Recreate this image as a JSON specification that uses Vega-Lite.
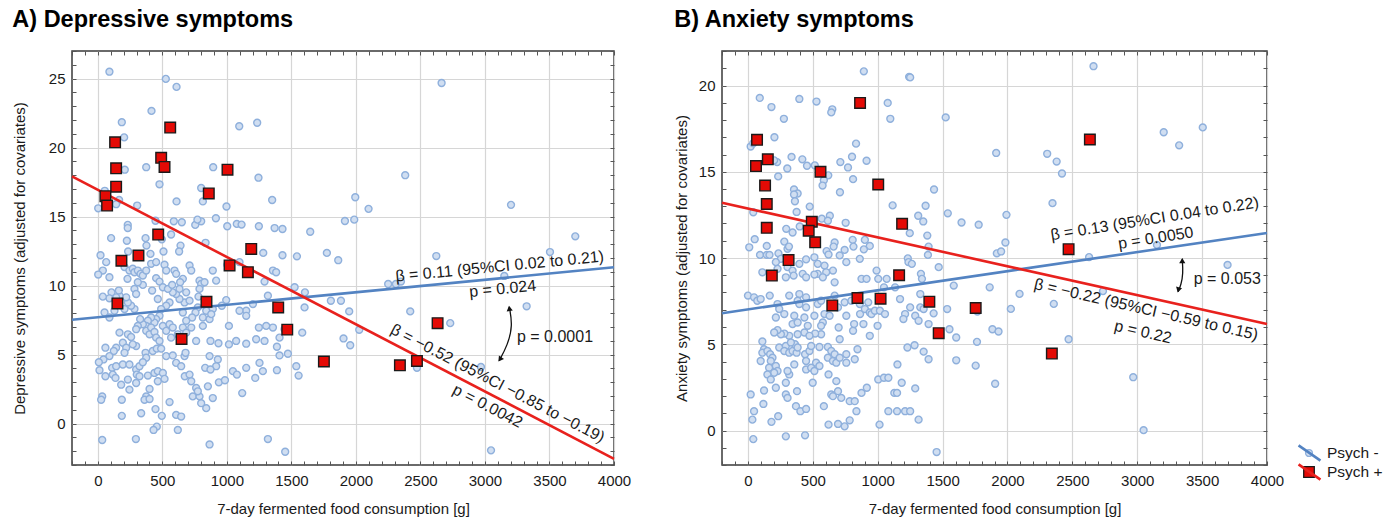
{
"$schema":"https://vega.github.io/schema/vega-lite/v6.json",
"background":"white",
"padding":{"left":11,"top":6,"right":0,"bottom":0},
"config":{"font":"Liberation Sans","view":{"stroke":"#3a3a3a","strokeWidth":1.5},
"title":{"anchor":"start","frame":"bounds","fontSize":23.5,"fontWeight":"bold","font":"Liberation Sans","color":"#000","offset":13},
"axis":{"labelFont":"Liberation Sans","titleFont":"Liberation Sans","labelFontSize":15,"titleFontSize":15,"titleFontWeight":"normal","labelColor":"#1a1a1a","titleColor":"#1a1a1a","tickColor":"#555","domain":false,"labelOverlap":false,"labelFlush":false,"gridColor":"#d6d6d6","gridWidth":1.2}},
"datasets":{
"ptsA":[
{"x":90,"y":25.5,"g":"Psych -"},{"x":527,"y":24.98,"g":"Psych -"},{"x":610,"y":24.4,"g":"Psych -"},{"x":416,"y":22.66,"g":"Psych -"},{"x":186,"y":21.84,"g":"Psych -"},{"x":204,"y":20.74,"g":"Psych -"},{"x":1096,"y":21.55,"g":"Psych -"},{"x":1235,"y":21.8,"g":"Psych -"},{"x":209,"y":18.4,"g":"Psych -"},{"x":375,"y":18.58,"g":"Psych -"},{"x":501,"y":19.16,"g":"Psych -"},{"x":894,"y":18.58,"g":"Psych -"},{"x":1245,"y":17.82,"g":"Psych -"},{"x":478,"y":17.34,"g":"Psych -"},{"x":801,"y":17.07,"g":"Psych -"},{"x":54,"y":16.87,"g":"Psych -"},{"x":610,"y":16.1,"g":"Psych -"},{"x":814,"y":16.1,"g":"Psych -"},{"x":1351,"y":16.2,"g":"Psych -"},{"x":165,"y":16.2,"g":"Psych -"},{"x":142,"y":15.9,"g":"Psych -"},{"x":3,"y":15.6,"g":"Psych -"},{"x":305,"y":15.8,"g":"Psych -"},{"x":997,"y":15.73,"g":"Psych -"},{"x":915,"y":14.88,"g":"Psych -"},{"x":589,"y":14.66,"g":"Psych -"},{"x":651,"y":14.59,"g":"Psych -"},{"x":755,"y":14.4,"g":"Psych -"},{"x":801,"y":14.66,"g":"Psych -"},{"x":772,"y":14.78,"g":"Psych -"},{"x":1003,"y":14.3,"g":"Psych -"},{"x":1077,"y":14.47,"g":"Psych -"},{"x":1114,"y":14.42,"g":"Psych -"},{"x":1248,"y":14.3,"g":"Psych -"},{"x":1370,"y":14.17,"g":"Psych -"},{"x":1431,"y":14.1,"g":"Psych -"},{"x":1646,"y":13.9,"g":"Psych -"},{"x":232,"y":14.4,"g":"Psych -"},{"x":232,"y":14.17,"g":"Psych -"},{"x":103,"y":13.44,"g":"Psych -"},{"x":225,"y":13.25,"g":"Psych -"},{"x":370,"y":13.44,"g":"Psych -"},{"x":447,"y":14.7,"g":"Psych -"},{"x":496,"y":13.35,"g":"Psych -"},{"x":568,"y":13.7,"g":"Psych -"},{"x":377,"y":12.9,"g":"Psych -"},{"x":641,"y":12.9,"g":"Psych -"},{"x":630,"y":12.47,"g":"Psych -"},{"x":509,"y":12.47,"g":"Psych -"},{"x":408,"y":12.3,"g":"Psych -"},{"x":235,"y":12.47,"g":"Psych -"},{"x":21,"y":12.2,"g":"Psych -"},{"x":835,"y":13.1,"g":"Psych -"},{"x":1282,"y":12.37,"g":"Psych -"},{"x":1431,"y":12.2,"g":"Psych -"},{"x":1543,"y":12.12,"g":"Psych -"},{"x":1775,"y":12.37,"g":"Psych -"},
{"x":65,"y":11.7,"g":"Psych -"},{"x":39,"y":11.09,"g":"Psych -"},{"x":3,"y":10.8,"g":"Psych -"},{"x":90,"y":10.61,"g":"Psych -"},{"x":207,"y":11.34,"g":"Psych -"},{"x":245,"y":11.09,"g":"Psych -"},{"x":271,"y":11.22,"g":"Psych -"},{"x":284,"y":10.97,"g":"Psych -"},{"x":310,"y":11.09,"g":"Psych -"},{"x":331,"y":10.85,"g":"Psych -"},{"x":349,"y":10.73,"g":"Psych -"},{"x":230,"y":10.49,"g":"Psych -"},{"x":375,"y":11.09,"g":"Psych -"},{"x":413,"y":11.58,"g":"Psych -"},{"x":452,"y":11.7,"g":"Psych -"},{"x":517,"y":11.51,"g":"Psych -"},{"x":452,"y":10.54,"g":"Psych -"},{"x":478,"y":10.29,"g":"Psych -"},{"x":530,"y":11.09,"g":"Psych -"},{"x":594,"y":11.09,"g":"Psych -"},{"x":607,"y":10.85,"g":"Psych -"},{"x":659,"y":10.49,"g":"Psych -"},{"x":638,"y":10.24,"g":"Psych -"},{"x":711,"y":11.46,"g":"Psych -"},{"x":724,"y":11.09,"g":"Psych -"},{"x":788,"y":10.36,"g":"Psych -"},{"x":801,"y":10.12,"g":"Psych -"},{"x":827,"y":10.24,"g":"Psych -"},{"x":891,"y":11.09,"g":"Psych -"},{"x":917,"y":10.36,"g":"Psych -"},{"x":1003,"y":11.51,"g":"Psych -"},{"x":1098,"y":11.7,"g":"Psych -"},{"x":1292,"y":10.29,"g":"Psych -"},{"x":1357,"y":11.09,"g":"Psych -"},{"x":1382,"y":10.97,"g":"Psych -"},{"x":1525,"y":9.88,"g":"Psych -"},{"x":1605,"y":9.51,"g":"Psych -"},{"x":1602,"y":8.42,"g":"Psych -"},{"x":1318,"y":9.27,"g":"Psych -"},{"x":1202,"y":8.66,"g":"Psych -"},{"x":1150,"y":8.18,"g":"Psych -"},{"x":1150,"y":7.81,"g":"Psych -"},{"x":1098,"y":8.18,"g":"Psych -"},{"x":995,"y":8.95,"g":"Psych -"},{"x":961,"y":8.54,"g":"Psych -"},{"x":891,"y":8.3,"g":"Psych -"},{"x":840,"y":8.18,"g":"Psych -"},{"x":775,"y":8.42,"g":"Psych -"},{"x":814,"y":7.69,"g":"Psych -"},{"x":866,"y":7.57,"g":"Psych -"},{"x":879,"y":7.93,"g":"Psych -"},{"x":757,"y":8.05,"g":"Psych -"},{"x":731,"y":7.69,"g":"Psych -"},{"x":685,"y":7.45,"g":"Psych -"},{"x":659,"y":8.05,"g":"Psych -"},{"x":672,"y":8.78,"g":"Psych -"},{"x":633,"y":9.03,"g":"Psych -"},{"x":607,"y":9.39,"g":"Psych -"},{"x":581,"y":9.51,"g":"Psych -"},{"x":556,"y":8.78,"g":"Psych -"},{"x":530,"y":8.54,"g":"Psych -"},{"x":491,"y":8.3,"g":"Psych -"},{"x":478,"y":7.81,"g":"Psych -"},{"x":452,"y":7.57,"g":"Psych -"},{"x":439,"y":7.32,"g":"Psych -"},{"x":413,"y":7.69,"g":"Psych -"},{"x":388,"y":7.45,"g":"Psych -"},{"x":375,"y":7.08,"g":"Psych -"},{"x":349,"y":7.2,"g":"Psych -"},{"x":328,"y":7.57,"g":"Psych -"},{"x":310,"y":7.08,"g":"Psych -"},{"x":297,"y":6.84,"g":"Psych -"},{"x":284,"y":8.3,"g":"Psych -"},{"x":258,"y":8.54,"g":"Psych -"},{"x":233,"y":8.78,"g":"Psych -"},{"x":220,"y":9.15,"g":"Psych -"},{"x":207,"y":8.3,"g":"Psych -"},{"x":168,"y":9.27,"g":"Psych -"},{"x":163,"y":9.64,"g":"Psych -"},{"x":142,"y":9.15,"g":"Psych -"},{"x":106,"y":9.51,"g":"Psych -"},{"x":90,"y":9.08,"g":"Psych -"},{"x":39,"y":9.2,"g":"Psych -"},{"x":52,"y":8.05,"g":"Psych -"},{"x":90,"y":7.69,"g":"Psych -"},{"x":129,"y":8.18,"g":"Psych -"},{"x":284,"y":9.76,"g":"Psych -"},{"x":297,"y":9.39,"g":"Psych -"},{"x":349,"y":10.05,"g":"Psych -"},{"x":310,"y":10.24,"g":"Psych -"},{"x":421,"y":9.64,"g":"Psych -"},{"x":465,"y":9.03,"g":"Psych -"},{"x":504,"y":9.88,"g":"Psych -"},{"x":543,"y":9.76,"g":"Psych -"},{"x":576,"y":10.05,"g":"Psych -"},{"x":633,"y":9.76,"g":"Psych -"},{"x":685,"y":9.51,"g":"Psych -"},{"x":711,"y":8.91,"g":"Psych -"},{"x":780,"y":9.2,"g":"Psych -"},{"x":788,"y":9.76,"g":"Psych -"},
{"x":375,"y":6.72,"g":"Psych -"},{"x":401,"y":6.47,"g":"Psych -"},{"x":413,"y":6.96,"g":"Psych -"},{"x":439,"y":6.64,"g":"Psych -"},{"x":452,"y":6.23,"g":"Psych -"},{"x":478,"y":5.99,"g":"Psych -"},{"x":504,"y":7.08,"g":"Psych -"},{"x":530,"y":6.72,"g":"Psych -"},{"x":556,"y":7.2,"g":"Psych -"},{"x":581,"y":6.96,"g":"Psych -"},{"x":568,"y":6.23,"g":"Psych -"},{"x":620,"y":6.47,"g":"Psych -"},{"x":659,"y":6.96,"g":"Psych -"},{"x":685,"y":6.59,"g":"Psych -"},{"x":724,"y":6.96,"g":"Psych -"},{"x":762,"y":5.99,"g":"Psych -"},{"x":814,"y":7.08,"g":"Psych -"},{"x":873,"y":5.99,"g":"Psych -"},{"x":935,"y":5.82,"g":"Psych -"},{"x":1016,"y":7.08,"g":"Psych -"},{"x":1016,"y":5.74,"g":"Psych -"},{"x":1072,"y":5.99,"g":"Psych -"},{"x":1150,"y":5.79,"g":"Psych -"},{"x":1227,"y":6.11,"g":"Psych -"},{"x":1248,"y":6.96,"g":"Psych -"},{"x":1292,"y":5.99,"g":"Psych -"},{"x":1305,"y":7.08,"g":"Psych -"},{"x":1357,"y":6.96,"g":"Psych -"},{"x":1388,"y":5.57,"g":"Psych -"},{"x":1408,"y":6.23,"g":"Psych -"},{"x":1447,"y":6.84,"g":"Psych -"},{"x":1473,"y":5.06,"g":"Psych -"},{"x":1584,"y":6.59,"g":"Psych -"},{"x":168,"y":6.59,"g":"Psych -"},{"x":233,"y":6.47,"g":"Psych -"},{"x":258,"y":6.28,"g":"Psych -"},{"x":297,"y":5.62,"g":"Psych -"},{"x":194,"y":5.86,"g":"Psych -"},{"x":142,"y":5.5,"g":"Psych -"},{"x":124,"y":5.26,"g":"Psych -"},{"x":220,"y":5.5,"g":"Psych -"},{"x":207,"y":5.13,"g":"Psych -"},{"x":271,"y":5.74,"g":"Psych -"},{"x":59,"y":5.5,"g":"Psych -"},{"x":44,"y":4.65,"g":"Psych -"},{"x":8,"y":4.45,"g":"Psych -"},{"x":13,"y":3.87,"g":"Psych -"},{"x":90,"y":4.89,"g":"Psych -"},{"x":111,"y":4.04,"g":"Psych -"},{"x":142,"y":4.16,"g":"Psych -"},{"x":194,"y":4.28,"g":"Psych -"},{"x":245,"y":4.28,"g":"Psych -"},{"x":297,"y":3.92,"g":"Psych -"},{"x":323,"y":4.16,"g":"Psych -"},{"x":370,"y":5.13,"g":"Psych -"},{"x":375,"y":4.77,"g":"Psych -"},{"x":349,"y":4.45,"g":"Psych -"},{"x":426,"y":5.26,"g":"Psych -"},{"x":457,"y":5.43,"g":"Psych -"},{"x":491,"y":5.43,"g":"Psych -"},{"x":530,"y":4.89,"g":"Psych -"},{"x":581,"y":4.94,"g":"Psych -"},{"x":607,"y":4.4,"g":"Psych -"},{"x":646,"y":4.16,"g":"Psych -"},{"x":672,"y":4.89,"g":"Psych -"},{"x":680,"y":5.13,"g":"Psych -"},{"x":866,"y":4.89,"g":"Psych -"},{"x":930,"y":4.65,"g":"Psych -"},{"x":917,"y":4.16,"g":"Psych -"},{"x":832,"y":4.04,"g":"Psych -"},{"x":873,"y":3.92,"g":"Psych -"},{"x":1047,"y":3.8,"g":"Psych -"},{"x":1078,"y":3.55,"g":"Psych -"},{"x":1150,"y":4.04,"g":"Psych -"},{"x":1220,"y":3.31,"g":"Psych -"},{"x":1253,"y":4.4,"g":"Psych -"},{"x":1279,"y":3.8,"g":"Psych -"},{"x":1388,"y":3.87,"g":"Psych -"},{"x":1408,"y":4.94,"g":"Psych -"},{"x":1538,"y":4.16,"g":"Psych -"},{"x":1556,"y":3.48,"g":"Psych -"},
{"x":59,"y":3.43,"g":"Psych -"},{"x":116,"y":3.55,"g":"Psych -"},{"x":137,"y":3.31,"g":"Psych -"},{"x":181,"y":2.82,"g":"Psych -"},{"x":233,"y":3.19,"g":"Psych -"},{"x":245,"y":2.46,"g":"Psych -"},{"x":302,"y":3.55,"g":"Psych -"},{"x":297,"y":2.94,"g":"Psych -"},{"x":323,"y":3.43,"g":"Psych -"},{"x":388,"y":3.48,"g":"Psych -"},{"x":401,"y":2.51,"g":"Psych -"},{"x":439,"y":3.67,"g":"Psych -"},{"x":465,"y":3.07,"g":"Psych -"},{"x":465,"y":3.8,"g":"Psych -"},{"x":504,"y":3.67,"g":"Psych -"},{"x":517,"y":3.24,"g":"Psych -"},{"x":375,"y":1.97,"g":"Psych -"},{"x":362,"y":1.73,"g":"Psych -"},{"x":401,"y":1.78,"g":"Psych -"},{"x":447,"y":1.05,"g":"Psych -"},{"x":457,"y":-0.22,"g":"Psych -"},{"x":432,"y":-0.46,"g":"Psych -"},{"x":496,"y":0.56,"g":"Psych -"},{"x":556,"y":1.56,"g":"Psych -"},{"x":607,"y":0.63,"g":"Psych -"},{"x":646,"y":0.51,"g":"Psych -"},{"x":674,"y":3.43,"g":"Psych -"},{"x":711,"y":3.55,"g":"Psych -"},{"x":724,"y":3.07,"g":"Psych -"},{"x":762,"y":2.58,"g":"Psych -"},{"x":736,"y":1.97,"g":"Psych -"},{"x":788,"y":1.97,"g":"Psych -"},{"x":775,"y":2.34,"g":"Psych -"},{"x":801,"y":1.48,"g":"Psych -"},{"x":840,"y":1.12,"g":"Psych -"},{"x":891,"y":1.85,"g":"Psych -"},{"x":853,"y":2.7,"g":"Psych -"},{"x":938,"y":2.99,"g":"Psych -"},{"x":985,"y":3.14,"g":"Psych -"},{"x":1119,"y":2.21,"g":"Psych -"},{"x":34,"y":1.97,"g":"Psych -"},{"x":26,"y":1.73,"g":"Psych -"},{"x":186,"y":1.73,"g":"Psych -"},{"x":186,"y":0.56,"g":"Psych -"},{"x":336,"y":0.75,"g":"Psych -"},{"x":620,"y":-0.46,"g":"Psych -"},{"x":34,"y":-1.19,"g":"Psych -"},{"x":295,"y":-1.12,"g":"Psych -"},{"x":866,"y":-1.51,"g":"Psych -"},{"x":1318,"y":-1.12,"g":"Psych -"},{"x":1452,"y":-2.04,"g":"Psych -"},
{"x":2664,"y":24.68,"g":"Psych -"},{"x":2382,"y":18.0,"g":"Psych -"},{"x":1995,"y":16.4,"g":"Psych -"},{"x":2098,"y":15.56,"g":"Psych -"},{"x":1915,"y":14.68,"g":"Psych -"},{"x":1987,"y":14.78,"g":"Psych -"},{"x":3202,"y":15.85,"g":"Psych -"},{"x":3700,"y":13.57,"g":"Psych -"},{"x":3504,"y":12.43,"g":"Psych -"},{"x":2623,"y":12.14,"g":"Psych -"},{"x":1863,"y":11.84,"g":"Psych -"},{"x":3150,"y":10.7,"g":"Psych -"},{"x":2250,"y":10.12,"g":"Psych -"},{"x":2310,"y":10.12,"g":"Psych -"},{"x":2349,"y":10.29,"g":"Psych -"},{"x":1806,"y":8.9,"g":"Psych -"},{"x":1884,"y":8.9,"g":"Psych -"},{"x":1948,"y":8.13,"g":"Psych -"},{"x":2421,"y":8.13,"g":"Psych -"},{"x":3323,"y":8.5,"g":"Psych -"},{"x":2731,"y":7.28,"g":"Psych -"},{"x":2026,"y":6.8,"g":"Psych -"},{"x":1904,"y":6.17,"g":"Psych -"},{"x":1956,"y":5.68,"g":"Psych -"},{"x":2473,"y":4.05,"g":"Psych -"},{"x":2969,"y":4.1,"g":"Psych -"},{"x":3047,"y":-1.94,"g":"Psych -"},
{"x":134,"y":20.38,"g":"Psych +"},{"x":561,"y":21.45,"g":"Psych +"},{"x":491,"y":19.26,"g":"Psych +"},{"x":517,"y":18.6,"g":"Psych +"},{"x":142,"y":18.5,"g":"Psych +"},{"x":1005,"y":18.4,"g":"Psych +"},{"x":142,"y":17.17,"g":"Psych +"},{"x":860,"y":16.68,"g":"Psych +"},{"x":59,"y":16.48,"g":"Psych +"},{"x":72,"y":15.8,"g":"Psych +"},{"x":468,"y":13.7,"g":"Psych +"},{"x":1189,"y":12.66,"g":"Psych +"},{"x":183,"y":11.8,"g":"Psych +"},{"x":315,"y":12.18,"g":"Psych +"},{"x":1021,"y":11.46,"g":"Psych +"},{"x":1163,"y":10.97,"g":"Psych +"},{"x":152,"y":8.71,"g":"Psych +"},{"x":842,"y":8.83,"g":"Psych +"},{"x":1398,"y":8.42,"g":"Psych +"},{"x":1468,"y":6.81,"g":"Psych +"},{"x":649,"y":6.13,"g":"Psych +"},{"x":1752,"y":4.5,"g":"Psych +"},{"x":2633,"y":7.28,"g":"Psych +"},{"x":2341,"y":4.22,"g":"Psych +"},{"x":2473,"y":4.54,"g":"Psych +"}
],
"ptsB":[
{"x":893,"y":20.82,"g":"Psych -"},{"x":1242,"y":20.5,"g":"Psych -"},{"x":1250,"y":20.47,"g":"Psych -"},{"x":91,"y":19.28,"g":"Psych -"},{"x":396,"y":19.22,"g":"Psych -"},{"x":528,"y":19.07,"g":"Psych -"},{"x":181,"y":18.75,"g":"Psych -"},{"x":650,"y":18.62,"g":"Psych -"},{"x":642,"y":18.44,"g":"Psych -"},{"x":1077,"y":18.99,"g":"Psych -"},{"x":1097,"y":18.07,"g":"Psych -"},{"x":277,"y":18.07,"g":"Psych -"},{"x":1524,"y":18.15,"g":"Psych -"},{"x":1913,"y":16.09,"g":"Psych -"},{"x":204,"y":17.0,"g":"Psych -"},{"x":21,"y":16.46,"g":"Psych -"},{"x":41,"y":16.65,"g":"Psych -"},{"x":833,"y":16.63,"g":"Psych -"},{"x":336,"y":15.86,"g":"Psych -"},{"x":419,"y":15.72,"g":"Psych -"},{"x":225,"y":15.56,"g":"Psych -"},{"x":202,"y":15.66,"g":"Psych -"},{"x":455,"y":15.35,"g":"Psych -"},{"x":303,"y":15.19,"g":"Psych -"},{"x":515,"y":15.37,"g":"Psych -"},{"x":712,"y":15.56,"g":"Psych -"},{"x":771,"y":15.25,"g":"Psych -"},{"x":802,"y":15.87,"g":"Psych -"},{"x":914,"y":15.64,"g":"Psych -"},{"x":810,"y":14.57,"g":"Psych -"},{"x":619,"y":14.79,"g":"Psych -"},{"x":585,"y":14.51,"g":"Psych -"},{"x":575,"y":14.2,"g":"Psych -"},{"x":233,"y":14.73,"g":"Psych -"},{"x":709,"y":13.81,"g":"Psych -"},{"x":355,"y":13.97,"g":"Psych -"},{"x":383,"y":13.74,"g":"Psych -"},{"x":355,"y":13.68,"g":"Psych -"},{"x":362,"y":13.29,"g":"Psych -"},{"x":476,"y":12.98,"g":"Psych -"},{"x":375,"y":12.67,"g":"Psych -"},{"x":41,"y":12.65,"g":"Psych -"},{"x":399,"y":11.83,"g":"Psych -"},{"x":295,"y":11.69,"g":"Psych -"},{"x":344,"y":11.48,"g":"Psych -"},{"x":280,"y":10.95,"g":"Psych -"},{"x":305,"y":10.53,"g":"Psych -"},{"x":316,"y":10.66,"g":"Psych -"},{"x":569,"y":12.28,"g":"Psych -"},{"x":631,"y":12.45,"g":"Psych -"},{"x":616,"y":12.16,"g":"Psych -"},{"x":753,"y":12.04,"g":"Psych -"},{"x":1115,"y":13.05,"g":"Psych -"},{"x":1312,"y":12.45,"g":"Psych -"},{"x":1369,"y":13.03,"g":"Psych -"},{"x":1351,"y":12.12,"g":"Psych -"},{"x":1247,"y":11.44,"g":"Psych -"},{"x":1382,"y":11.3,"g":"Psych -"},{"x":1434,"y":13.97,"g":"Psych -"},{"x":1540,"y":12.59,"g":"Psych -"},{"x":1646,"y":12.06,"g":"Psych -"},{"x":1778,"y":11.93,"g":"Psych -"},{"x":52,"y":11.09,"g":"Psych -"},{"x":10,"y":10.62,"g":"Psych -"},{"x":145,"y":10.7,"g":"Psych -"},{"x":93,"y":10.18,"g":"Psych -"},{"x":145,"y":10.18,"g":"Psych -"},{"x":166,"y":10.18,"g":"Psych -"},{"x":235,"y":10.27,"g":"Psych -"},{"x":668,"y":10.9,"g":"Psych -"},{"x":660,"y":10.66,"g":"Psych -"},{"x":745,"y":10.47,"g":"Psych -"},{"x":807,"y":11.05,"g":"Psych -"},{"x":901,"y":11.05,"g":"Psych -"},{"x":939,"y":10.7,"g":"Psych -"},{"x":893,"y":10.5,"g":"Psych -"},{"x":813,"y":10.66,"g":"Psych -"},{"x":606,"y":10.4,"g":"Psych -"},{"x":621,"y":10.2,"g":"Psych -"},{"x":512,"y":10.04,"g":"Psych -"},{"x":448,"y":9.92,"g":"Psych -"},{"x":1392,"y":10.66,"g":"Psych -"},{"x":1387,"y":10.18,"g":"Psych -"},{"x":1232,"y":9.98,"g":"Psych -"},{"x":1918,"y":10.27,"g":"Psych -"},
{"x":254,"y":9.95,"g":"Psych -"},{"x":305,"y":9.47,"g":"Psych -"},{"x":344,"y":9.27,"g":"Psych -"},{"x":396,"y":9.66,"g":"Psych -"},{"x":538,"y":9.66,"g":"Psych -"},{"x":590,"y":9.56,"g":"Psych -"},{"x":655,"y":9.27,"g":"Psych -"},{"x":707,"y":10.15,"g":"Psych -"},{"x":758,"y":9.76,"g":"Psych -"},{"x":538,"y":9.08,"g":"Psych -"},{"x":603,"y":9.17,"g":"Psych -"},{"x":668,"y":8.59,"g":"Psych -"},{"x":352,"y":8.98,"g":"Psych -"},{"x":292,"y":8.88,"g":"Psych -"},{"x":228,"y":9.37,"g":"Psych -"},{"x":215,"y":9.76,"g":"Psych -"},{"x":111,"y":9.17,"g":"Psych -"},{"x":422,"y":9.08,"g":"Psych -"},{"x":448,"y":8.88,"g":"Psych -"},{"x":512,"y":9.04,"g":"Psych -"},{"x":577,"y":8.88,"g":"Psych -"},{"x":862,"y":9.95,"g":"Psych -"},{"x":875,"y":8.79,"g":"Psych -"},{"x":914,"y":8.79,"g":"Psych -"},{"x":991,"y":9.27,"g":"Psych -"},{"x":1004,"y":8.79,"g":"Psych -"},{"x":1048,"y":8.3,"g":"Psych -"},{"x":1069,"y":8.79,"g":"Psych -"},{"x":1134,"y":8.3,"g":"Psych -"},{"x":1237,"y":9.76,"g":"Psych -"},{"x":1263,"y":9.66,"g":"Psych -"},{"x":1333,"y":9.08,"g":"Psych -"},{"x":1341,"y":8.79,"g":"Psych -"},{"x":1470,"y":9.47,"g":"Psych -"},{"x":1586,"y":8.4,"g":"Psych -"},{"x":1863,"y":8.3,"g":"Psych -"},{"x":1328,"y":7.91,"g":"Psych -"},{"x":1250,"y":7.14,"g":"Psych -"},{"x":1172,"y":7.62,"g":"Psych -"},{"x":1211,"y":6.75,"g":"Psych -"},{"x":1198,"y":6.46,"g":"Psych -"},{"x":1289,"y":6.65,"g":"Psych -"},{"x":1315,"y":6.36,"g":"Psych -"},{"x":1328,"y":7.14,"g":"Psych -"},{"x":1354,"y":7.04,"g":"Psych -"},{"x":1392,"y":6.17,"g":"Psych -"},{"x":1431,"y":6.79,"g":"Psych -"},{"x":1535,"y":7.04,"g":"Psych -"},{"x":1553,"y":5.87,"g":"Psych -"},{"x":1605,"y":5.39,"g":"Psych -"},{"x":1768,"y":6.9,"g":"Psych -"},{"x":1884,"y":5.87,"g":"Psych -"},{"x":1931,"y":5.74,"g":"Psych -"},{"x":1765,"y":5.14,"g":"Psych -"},{"x":1755,"y":3.76,"g":"Psych -"},{"x":1905,"y":2.71,"g":"Psych -"},{"x":1605,"y":4.07,"g":"Psych -"},{"x":1392,"y":4.13,"g":"Psych -"},{"x":1354,"y":4.57,"g":"Psych -"},{"x":1284,"y":4.94,"g":"Psych -"},{"x":1229,"y":4.81,"g":"Psych -"},{"x":1289,"y":2.44,"g":"Psych -"},{"x":1315,"y":0.63,"g":"Psych -"},{"x":1454,"y":-1.25,"g":"Psych -"},
{"x":0,"y":7.82,"g":"Psych -"},{"x":47,"y":7.72,"g":"Psych -"},{"x":72,"y":7.52,"g":"Psych -"},{"x":98,"y":7.62,"g":"Psych -"},{"x":168,"y":7.82,"g":"Psych -"},{"x":228,"y":7.33,"g":"Psych -"},{"x":241,"y":7.04,"g":"Psych -"},{"x":280,"y":6.75,"g":"Psych -"},{"x":215,"y":6.55,"g":"Psych -"},{"x":318,"y":7.82,"g":"Psych -"},{"x":396,"y":7.91,"g":"Psych -"},{"x":383,"y":7.52,"g":"Psych -"},{"x":396,"y":7.33,"g":"Psych -"},{"x":448,"y":7.72,"g":"Psych -"},{"x":448,"y":7.14,"g":"Psych -"},{"x":357,"y":6.65,"g":"Psych -"},{"x":344,"y":6.17,"g":"Psych -"},{"x":383,"y":6.26,"g":"Psych -"},{"x":435,"y":6.55,"g":"Psych -"},{"x":461,"y":6.07,"g":"Psych -"},{"x":512,"y":6.65,"g":"Psych -"},{"x":538,"y":7.33,"g":"Psych -"},{"x":564,"y":7.52,"g":"Psych -"},{"x":577,"y":6.26,"g":"Psych -"},{"x":564,"y":6.07,"g":"Psych -"},{"x":590,"y":6.75,"g":"Psych -"},{"x":629,"y":6.65,"g":"Psych -"},{"x":668,"y":7.82,"g":"Psych -"},{"x":694,"y":7.14,"g":"Psych -"},{"x":699,"y":5.97,"g":"Psych -"},{"x":745,"y":7.43,"g":"Psych -"},{"x":758,"y":6.65,"g":"Psych -"},{"x":797,"y":7.52,"g":"Psych -"},{"x":810,"y":5.78,"g":"Psych -"},{"x":818,"y":6.17,"g":"Psych -"},{"x":862,"y":7.33,"g":"Psych -"},{"x":864,"y":6.75,"g":"Psych -"},{"x":890,"y":6.17,"g":"Psych -"},{"x":901,"y":7.04,"g":"Psych -"},{"x":927,"y":7.43,"g":"Psych -"},{"x":939,"y":6.84,"g":"Psych -"},{"x":952,"y":6.75,"g":"Psych -"},{"x":978,"y":6.94,"g":"Psych -"},{"x":999,"y":6.07,"g":"Psych -"},{"x":1017,"y":6.94,"g":"Psych -"},{"x":1056,"y":6.75,"g":"Psych -"},{"x":939,"y":5.49,"g":"Psych -"},{"x":707,"y":5.29,"g":"Psych -"},{"x":564,"y":5.58,"g":"Psych -"},{"x":518,"y":5.62,"g":"Psych -"},{"x":435,"y":5.68,"g":"Psych -"},{"x":474,"y":5.49,"g":"Psych -"},{"x":383,"y":5.58,"g":"Psych -"},{"x":318,"y":5.49,"g":"Psych -"},{"x":280,"y":5.62,"g":"Psych -"},{"x":254,"y":5.58,"g":"Psych -"},{"x":228,"y":5.82,"g":"Psych -"},{"x":202,"y":5.68,"g":"Psych -"},
{"x":111,"y":5.16,"g":"Psych -"},{"x":124,"y":4.71,"g":"Psych -"},{"x":111,"y":4.51,"g":"Psych -"},{"x":150,"y":4.61,"g":"Psych -"},{"x":171,"y":4.42,"g":"Psych -"},{"x":189,"y":4.22,"g":"Psych -"},{"x":241,"y":4.81,"g":"Psych -"},{"x":292,"y":4.9,"g":"Psych -"},{"x":280,"y":4.61,"g":"Psych -"},{"x":318,"y":4.51,"g":"Psych -"},{"x":344,"y":4.61,"g":"Psych -"},{"x":375,"y":4.51,"g":"Psych -"},{"x":362,"y":5.0,"g":"Psych -"},{"x":383,"y":4.81,"g":"Psych -"},{"x":331,"y":5.1,"g":"Psych -"},{"x":176,"y":4.03,"g":"Psych -"},{"x":163,"y":3.64,"g":"Psych -"},{"x":215,"y":3.74,"g":"Psych -"},{"x":228,"y":3.45,"g":"Psych -"},{"x":202,"y":3.35,"g":"Psych -"},{"x":150,"y":3.25,"g":"Psych -"},{"x":98,"y":4.03,"g":"Psych -"},{"x":176,"y":2.96,"g":"Psych -"},{"x":215,"y":2.48,"g":"Psych -"},{"x":292,"y":2.77,"g":"Psych -"},{"x":318,"y":3.25,"g":"Psych -"},{"x":357,"y":3.83,"g":"Psych -"},{"x":305,"y":3.45,"g":"Psych -"},{"x":440,"y":4.42,"g":"Psych -"},{"x":448,"y":4.03,"g":"Psych -"},{"x":448,"y":3.54,"g":"Psych -"},{"x":487,"y":3.64,"g":"Psych -"},{"x":512,"y":3.45,"g":"Psych -"},{"x":525,"y":3.93,"g":"Psych -"},{"x":551,"y":3.74,"g":"Psych -"},{"x":499,"y":2.77,"g":"Psych -"},{"x":474,"y":4.61,"g":"Psych -"},{"x":487,"y":4.9,"g":"Psych -"},{"x":551,"y":4.84,"g":"Psych -"},{"x":616,"y":4.84,"g":"Psych -"},{"x":642,"y":4.61,"g":"Psych -"},{"x":616,"y":4.22,"g":"Psych -"},{"x":655,"y":4.03,"g":"Psych -"},{"x":668,"y":4.42,"g":"Psych -"},{"x":681,"y":3.93,"g":"Psych -"},{"x":707,"y":4.22,"g":"Psych -"},{"x":758,"y":4.42,"g":"Psych -"},{"x":758,"y":3.93,"g":"Psych -"},{"x":823,"y":4.13,"g":"Psych -"},{"x":844,"y":4.71,"g":"Psych -"},{"x":621,"y":3.25,"g":"Psych -"},{"x":681,"y":2.86,"g":"Psych -"},{"x":642,"y":2.09,"g":"Psych -"},{"x":694,"y":2.28,"g":"Psych -"},{"x":655,"y":1.99,"g":"Psych -"},{"x":719,"y":1.89,"g":"Psych -"},{"x":784,"y":1.7,"g":"Psych -"},{"x":823,"y":1.7,"g":"Psych -"},{"x":836,"y":1.12,"g":"Psych -"},{"x":875,"y":2.18,"g":"Psych -"},{"x":916,"y":2.48,"g":"Psych -"},{"x":1004,"y":2.96,"g":"Psych -"},{"x":1048,"y":3.06,"g":"Psych -"},{"x":1082,"y":3.06,"g":"Psych -"},{"x":1152,"y":3.83,"g":"Psych -"},{"x":1128,"y":2.18,"g":"Psych -"},{"x":1149,"y":2.18,"g":"Psych -"},{"x":1185,"y":2.77,"g":"Psych -"},{"x":1149,"y":1.12,"g":"Psych -"},{"x":1211,"y":1.12,"g":"Psych -"},{"x":1250,"y":1.12,"g":"Psych -"},{"x":1082,"y":1.12,"g":"Psych -"},{"x":1014,"y":0.34,"g":"Psych -"},{"x":621,"y":0.34,"g":"Psych -"},{"x":694,"y":0.38,"g":"Psych -"},{"x":745,"y":0.24,"g":"Psych -"},{"x":784,"y":0.59,"g":"Psych -"},{"x":21,"y":2.09,"g":"Psych -"},{"x":47,"y":1.12,"g":"Psych -"},{"x":34,"y":0.63,"g":"Psych -"},{"x":181,"y":0.5,"g":"Psych -"},{"x":41,"y":-0.5,"g":"Psych -"},{"x":124,"y":2.32,"g":"Psych -"},{"x":119,"y":1.54,"g":"Psych -"},{"x":233,"y":0.83,"g":"Psych -"},{"x":292,"y":2.09,"g":"Psych -"},{"x":305,"y":1.89,"g":"Psych -"},{"x":378,"y":2.28,"g":"Psych -"},{"x":370,"y":1.41,"g":"Psych -"},{"x":404,"y":1.12,"g":"Psych -"},{"x":448,"y":1.25,"g":"Psych -"},{"x":292,"y":-0.34,"g":"Psych -"},{"x":440,"y":-0.28,"g":"Psych -"},{"x":585,"y":1.41,"g":"Psych -"},
{"x":2663,"y":21.12,"g":"Psych -"},{"x":3204,"y":17.29,"g":"Psych -"},{"x":3323,"y":16.53,"g":"Psych -"},{"x":3505,"y":17.57,"g":"Psych -"},{"x":2306,"y":16.04,"g":"Psych -"},{"x":2379,"y":15.59,"g":"Psych -"},{"x":2420,"y":14.9,"g":"Psych -"},{"x":2347,"y":13.18,"g":"Psych -"},{"x":1992,"y":12.5,"g":"Psych -"},{"x":1984,"y":10.9,"g":"Psych -"},{"x":1951,"y":10.38,"g":"Psych -"},{"x":2629,"y":10.05,"g":"Psych -"},{"x":3152,"y":10.76,"g":"Psych -"},{"x":3696,"y":9.6,"g":"Psych -"},{"x":2093,"y":7.92,"g":"Psych -"},{"x":2357,"y":7.34,"g":"Psych -"},{"x":2736,"y":8.08,"g":"Psych -"},{"x":2026,"y":7.05,"g":"Psych -"},{"x":2471,"y":5.29,"g":"Psych -"},{"x":2969,"y":3.09,"g":"Psych -"},{"x":3049,"y":0.02,"g":"Psych -"},
{"x":70,"y":16.85,"g":"Psych +"},{"x":153,"y":15.72,"g":"Psych +"},{"x":62,"y":15.33,"g":"Psych +"},{"x":864,"y":18.99,"g":"Psych +"},{"x":559,"y":15.0,"g":"Psych +"},{"x":132,"y":14.2,"g":"Psych +"},{"x":1004,"y":14.26,"g":"Psych +"},{"x":145,"y":13.13,"g":"Psych +"},{"x":145,"y":11.75,"g":"Psych +"},{"x":492,"y":12.1,"g":"Psych +"},{"x":468,"y":11.58,"g":"Psych +"},{"x":518,"y":10.91,"g":"Psych +"},{"x":1188,"y":11.98,"g":"Psych +"},{"x":313,"y":9.88,"g":"Psych +"},{"x":184,"y":8.98,"g":"Psych +"},{"x":1165,"y":9.0,"g":"Psych +"},{"x":650,"y":7.25,"g":"Psych +"},{"x":844,"y":7.68,"g":"Psych +"},{"x":1022,"y":7.64,"g":"Psych +"},{"x":1398,"y":7.47,"g":"Psych +"},{"x":1755,"y":7.1,"g":"Psych +"},{"x":1470,"y":5.64,"g":"Psych +"},{"x":2635,"y":16.87,"g":"Psych +"},{"x":2471,"y":10.51,"g":"Psych +"},{"x":2342,"y":4.46,"g":"Psych +"}
],
"linesA":[{"x":-200,"y":7.52,"line":"Psych -"},{"x":4000,"y":11.33,"line":"Psych -"},{"x":-200,"y":17.92,"line":"Psych +"},{"x":4000,"y":-2.55,"line":"Psych +"}],
"linesB":[{"x":-200,"y":6.8,"line":"Psych -"},{"x":4000,"y":11.45,"line":"Psych -"},{"x":-200,"y":13.2,"line":"Psych +"},{"x":4000,"y":6.18,"line":"Psych +"}],
"annA":[{"x":3114,"y":11.38,"t":"β = 0.11 (95%CI 0.02 to 0.21)","k":"b"},{"x":3137,"y":9.76,"t":"p = 0.024","k":"b"},{"x":3098,"y":2.91,"t":"β = −0.52 (95%CI −0.85 to −0.19)","k":"r"},{"x":3021,"y":1.26,"t":"p = 0.0042","k":"r"},{"x":3248,"y":6.29,"t":"p = 0.0001","k":"d"}],
"annB":[{"x":3134,"y":12.27,"t":"β = 0.13 (95%CI 0.04 to 0.22)","k":"b"},{"x":3142,"y":11.15,"t":"p = 0.0050","k":"b"},{"x":3068,"y":7.01,"t":"β = −0.22 (95%CI −0.59 to 0.15)","k":"r"},{"x":3044,"y":5.7,"t":"p = 0.22","k":"r"},{"x":3435,"y":8.79,"t":"p = 0.053","k":"d"}],
"arrA":[{"x":3189,"y":8.45,"i":1},{"x":3215,"y":7.1,"i":2},{"x":3176,"y":5.7,"i":3},{"x":3110,"y":4.55,"i":4}],
"arrB":[{"x":3347,"y":9.95,"i":1},{"x":3354,"y":9.1,"i":2},{"x":3338,"y":8.45,"i":3},{"x":3315,"y":8.05,"i":4}],
"headA":[{"x":3189,"y":8.35,"e":"top"},{"x":3116,"y":4.65,"e":"bot"}],
"headB":[{"x":3347,"y":9.85,"e":"top"},{"x":3317,"y":8.15,"e":"bot"}]
},
"spacing":41,
"hconcat":[
{"title":{"text":"A) Depressive symptoms"},"width":542,"height":414,
"resolve":{"axis":{"x":"independent","y":"independent"}},
"layer":[
{"data":{"name":"ptsA"},"transform":[{"filter":"datum.g === 'Psych -'"}],"mark":{"type":"point","filled":true,"strokeWidth":1.4,"opacity":1},
"encoding":{
"x":{"field":"x","type":"quantitative","scale":{"domain":[-200,4000],"nice":false,"zero":false},"axis":{"orient":"bottom","title":"7-day fermented food consumption [g]","values":[-200,-100,0,100,200,300,400,500,600,700,800,900,1000,1100,1200,1300,1400,1500,1600,1700,1800,1900,2000,2100,2200,2300,2400,2500,2600,2700,2800,2900,3000,3100,3200,3300,3400,3500,3600,3700,3800,3900,4000],"labelExpr":"datum.value >= 0 && datum.value % 500 === 0 ? format(datum.value, 'd') : ''","tickSize":-4,"labelPadding":12,"titlePadding":13,"grid":true,"gridOpacity":{"condition":{"test":"datum.value % 500 === 0","value":1},"value":0}}},
"y":{"field":"y","type":"quantitative","scale":{"domain":[-3,27],"nice":false,"zero":false},"axis":{"orient":"left","title":"Depressive symptoms (adjusted for covariates)","values":[-3,-2,-1,0,1,2,3,4,5,6,7,8,9,10,11,12,13,14,15,16,17,18,19,20,21,22,23,24,25,26,27],"labelExpr":"datum.value >= 0 && datum.value % 5 === 0 ? format(datum.value, 'd') : ''","tickSize":-4,"labelPadding":11,"titlePadding":21,"grid":true,"gridOpacity":{"condition":{"test":"datum.value % 5 === 0","value":1},"value":0}}},
"fill":{"field":"g","type":"nominal","scale":{"domain":["Psych -","Psych +"],"range":["#d0def1","#e40a05"]},"legend":{"orient":"none","legendX":1231,"legendY":393,"title":null,"labelExpr":"''","labelOpacity":0,"clipHeight":18,"rowPadding":1,"symbolStrokeWidth":1.3}},
"stroke":{"field":"g","type":"nominal","scale":{"domain":["Psych -","Psych +"],"range":["#8fb0dc","#1a1a1a"]},"legend":{"orient":"none","legendX":1231,"legendY":393,"title":null,"labelExpr":"''","labelOpacity":0,"clipHeight":18,"rowPadding":1,"symbolStrokeWidth":1.3}},
"shape":{"field":"g","type":"nominal","scale":{"domain":["Psych -","Psych +"],"range":["circle","square"]},"legend":{"orient":"none","legendX":1231,"legendY":393,"title":null,"labelExpr":"''","labelOpacity":0,"clipHeight":18,"rowPadding":1,"symbolStrokeWidth":1.3}},
"size":{"field":"g","type":"ordinal","scale":{"domain":["Psych -","Psych +"],"range":[48,112]},"legend":{"orient":"none","legendX":1231,"legendY":393,"title":null,"labelExpr":"''","labelOpacity":0,"clipHeight":18,"rowPadding":1,"symbolStrokeWidth":1.3}}}},
{"data":{"name":"linesA"},"mark":{"type":"line","strokeWidth":2.6},
"encoding":{
"x":{"field":"x","type":"quantitative","axis":{"orient":"top","title":null,"labels":false,"grid":false,"tickSize":-4,"values":[-200,-100,0,100,200,300,400,500,600,700,800,900,1000,1100,1200,1300,1400,1500,1600,1700,1800,1900,2000,2100,2200,2300,2400,2500,2600,2700,2800,2900,3000,3100,3200,3300,3400,3500,3600,3700,3800,3900,4000]}},
"y":{"field":"y","type":"quantitative","axis":{"orient":"right","title":null,"labels":false,"grid":false,"tickSize":-4,"values":[-3,-2,-1,0,1,2,3,4,5,6,7,8,9,10,11,12,13,14,15,16,17,18,19,20,21,22,23,24,25,26,27]}},
"color":{"field":"line","type":"nominal","sort":["Psych -","Psych +"],"scale":{"range":["#5383c2","#e8211d"]},"legend":{"orient":"none","legendX":1225,"legendY":393,"title":null,"symbolType":"M-1,-0.7L1,0.7","symbolSize":480,"symbolStrokeWidth":2.6,"labelFontSize":15.5,"labelFont":"Liberation Sans","labelColor":"#1a1a1a","clipHeight":18,"rowPadding":1,"labelOffset":5}}}},
{"data":{"name":"ptsA"},"transform":[{"filter":"datum.g === 'Psych +'"}],"mark":{"type":"point","filled":true,"strokeWidth":1.4,"opacity":1},
"encoding":{
"x":{"field":"x","type":"quantitative","axis":null},
"y":{"field":"y","type":"quantitative","axis":null},
"fill":{"field":"g","type":"nominal","scale":{"domain":["Psych -","Psych +"],"range":["#d0def1","#e40a05"]},"legend":{"orient":"none","legendX":1231,"legendY":393,"title":null,"labelExpr":"''","labelOpacity":0,"clipHeight":18,"rowPadding":1,"symbolStrokeWidth":1.3}},
"stroke":{"field":"g","type":"nominal","scale":{"domain":["Psych -","Psych +"],"range":["#8fb0dc","#1a1a1a"]},"legend":{"orient":"none","legendX":1231,"legendY":393,"title":null,"labelExpr":"''","labelOpacity":0,"clipHeight":18,"rowPadding":1,"symbolStrokeWidth":1.3}},
"shape":{"field":"g","type":"nominal","scale":{"domain":["Psych -","Psych +"],"range":["circle","square"]},"legend":{"orient":"none","legendX":1231,"legendY":393,"title":null,"labelExpr":"''","labelOpacity":0,"clipHeight":18,"rowPadding":1,"symbolStrokeWidth":1.3}},
"size":{"field":"g","type":"ordinal","scale":{"domain":["Psych -","Psych +"],"range":[48,112]},"legend":{"orient":"none","legendX":1231,"legendY":393,"title":null,"labelExpr":"''","labelOpacity":0,"clipHeight":18,"rowPadding":1,"symbolStrokeWidth":1.3}}}},
{"data":{"name":"annA"},"transform":[{"filter":"datum.k === 'b'"}],"mark":{"type":"text","angle":-5.5,"fontSize":16,"font":"Liberation Sans","color":"#1a1a1a","align":"center","baseline":"middle"},"encoding":{"x":{"field":"x","type":"quantitative","axis":null},"y":{"field":"y","type":"quantitative","axis":null},"text":{"field":"t"}}},
{"data":{"name":"annA"},"transform":[{"filter":"datum.k === 'r'"}],"mark":{"type":"text","angle":27.5,"fontSize":16,"font":"Liberation Sans","color":"#1a1a1a","align":"center","baseline":"middle"},"encoding":{"x":{"field":"x","type":"quantitative","axis":null},"y":{"field":"y","type":"quantitative","axis":null},"text":{"field":"t"}}},
{"data":{"name":"annA"},"transform":[{"filter":"datum.k === 'd'"}],"mark":{"type":"text","fontSize":16,"font":"Liberation Sans","color":"#1a1a1a","align":"left","baseline":"middle"},"encoding":{"x":{"field":"x","type":"quantitative","axis":null},"y":{"field":"y","type":"quantitative","axis":null},"text":{"field":"t"}}},
{"data":{"name":"arrA"},"mark":{"type":"line","interpolate":"basis","color":"#111","strokeWidth":1.3},"encoding":{"x":{"field":"x","type":"quantitative","axis":null},"y":{"field":"y","type":"quantitative","axis":null},"order":{"field":"i","type":"quantitative"}}},
{"data":{"name":"headA"},"transform":[{"filter":"datum.e === 'top'"}],"mark":{"type":"point","shape":"triangle-up","filled":true,"color":"#111","size":38,"angle":-8,"opacity":1},"encoding":{"x":{"field":"x","type":"quantitative","axis":null},"y":{"field":"y","type":"quantitative","axis":null}}},
{"data":{"name":"headA"},"transform":[{"filter":"datum.e === 'bot'"}],"mark":{"type":"point","shape":"triangle-down","filled":true,"color":"#111","size":38,"angle":35,"opacity":1},"encoding":{"x":{"field":"x","type":"quantitative","axis":null},"y":{"field":"y","type":"quantitative","axis":null}}}
]},
{"title":{"text":"B) Anxiety symptoms"},"width":545,"height":414,
"resolve":{"axis":{"x":"independent","y":"independent"}},
"layer":[
{"data":{"name":"ptsB"},"transform":[{"filter":"datum.g === 'Psych -'"}],"mark":{"type":"point","filled":true,"strokeWidth":1.4,"opacity":1},
"encoding":{
"x":{"field":"x","type":"quantitative","scale":{"domain":[-200,4000],"nice":false,"zero":false},"axis":{"orient":"bottom","title":"7-day fermented food consumption [g]","values":[-200,-100,0,100,200,300,400,500,600,700,800,900,1000,1100,1200,1300,1400,1500,1600,1700,1800,1900,2000,2100,2200,2300,2400,2500,2600,2700,2800,2900,3000,3100,3200,3300,3400,3500,3600,3700,3800,3900,4000],"labelExpr":"datum.value >= 0 && datum.value % 500 === 0 ? format(datum.value, 'd') : ''","tickSize":-4,"labelPadding":12,"titlePadding":13,"grid":true,"gridOpacity":{"condition":{"test":"datum.value % 500 === 0","value":1},"value":0}}},
"y":{"field":"y","type":"quantitative","scale":{"domain":[-2,22],"nice":false,"zero":false},"axis":{"orient":"left","title":"Anxiety symptoms (adjusted for covariates)","values":[-2,-1,0,1,2,3,4,5,6,7,8,9,10,11,12,13,14,15,16,17,18,19,20,21,22],"labelExpr":"datum.value >= 0 && datum.value % 5 === 0 ? format(datum.value, 'd') : ''","tickSize":-4,"labelPadding":11,"titlePadding":9,"grid":true,"gridOpacity":{"condition":{"test":"datum.value % 5 === 0","value":1},"value":0}}},
"fill":{"field":"g","type":"nominal","scale":{"domain":["Psych -","Psych +"],"range":["#d0def1","#e40a05"]},"legend":{"orient":"none","legendX":1231,"legendY":393,"title":null,"labelExpr":"''","labelOpacity":0,"clipHeight":18,"rowPadding":1,"symbolStrokeWidth":1.3}},
"stroke":{"field":"g","type":"nominal","scale":{"domain":["Psych -","Psych +"],"range":["#8fb0dc","#1a1a1a"]},"legend":{"orient":"none","legendX":1231,"legendY":393,"title":null,"labelExpr":"''","labelOpacity":0,"clipHeight":18,"rowPadding":1,"symbolStrokeWidth":1.3}},
"shape":{"field":"g","type":"nominal","scale":{"domain":["Psych -","Psych +"],"range":["circle","square"]},"legend":{"orient":"none","legendX":1231,"legendY":393,"title":null,"labelExpr":"''","labelOpacity":0,"clipHeight":18,"rowPadding":1,"symbolStrokeWidth":1.3}},
"size":{"field":"g","type":"ordinal","scale":{"domain":["Psych -","Psych +"],"range":[48,112]},"legend":{"orient":"none","legendX":1231,"legendY":393,"title":null,"labelExpr":"''","labelOpacity":0,"clipHeight":18,"rowPadding":1,"symbolStrokeWidth":1.3}}}},
{"data":{"name":"linesB"},"mark":{"type":"line","strokeWidth":2.6},
"encoding":{
"x":{"field":"x","type":"quantitative","axis":{"orient":"top","title":null,"labels":false,"grid":false,"tickSize":-4,"values":[-200,-100,0,100,200,300,400,500,600,700,800,900,1000,1100,1200,1300,1400,1500,1600,1700,1800,1900,2000,2100,2200,2300,2400,2500,2600,2700,2800,2900,3000,3100,3200,3300,3400,3500,3600,3700,3800,3900,4000]}},
"y":{"field":"y","type":"quantitative","axis":{"orient":"right","title":null,"labels":false,"grid":false,"tickSize":-4,"values":[-2,-1,0,1,2,3,4,5,6,7,8,9,10,11,12,13,14,15,16,17,18,19,20,21,22]}},
"color":{"field":"line","type":"nominal","sort":["Psych -","Psych +"],"scale":{"range":["#5383c2","#e8211d"]},"legend":{"orient":"none","legendX":1225,"legendY":393,"title":null,"symbolType":"M-1,-0.7L1,0.7","symbolSize":480,"symbolStrokeWidth":2.6,"labelFontSize":15.5,"labelFont":"Liberation Sans","labelColor":"#1a1a1a","clipHeight":18,"rowPadding":1,"labelOffset":5}}}},
{"data":{"name":"ptsB"},"transform":[{"filter":"datum.g === 'Psych +'"}],"mark":{"type":"point","filled":true,"strokeWidth":1.4,"opacity":1},
"encoding":{
"x":{"field":"x","type":"quantitative","axis":null},
"y":{"field":"y","type":"quantitative","axis":null},
"fill":{"field":"g","type":"nominal","scale":{"domain":["Psych -","Psych +"],"range":["#d0def1","#e40a05"]},"legend":{"orient":"none","legendX":1231,"legendY":393,"title":null,"labelExpr":"''","labelOpacity":0,"clipHeight":18,"rowPadding":1,"symbolStrokeWidth":1.3}},
"stroke":{"field":"g","type":"nominal","scale":{"domain":["Psych -","Psych +"],"range":["#8fb0dc","#1a1a1a"]},"legend":{"orient":"none","legendX":1231,"legendY":393,"title":null,"labelExpr":"''","labelOpacity":0,"clipHeight":18,"rowPadding":1,"symbolStrokeWidth":1.3}},
"shape":{"field":"g","type":"nominal","scale":{"domain":["Psych -","Psych +"],"range":["circle","square"]},"legend":{"orient":"none","legendX":1231,"legendY":393,"title":null,"labelExpr":"''","labelOpacity":0,"clipHeight":18,"rowPadding":1,"symbolStrokeWidth":1.3}},
"size":{"field":"g","type":"ordinal","scale":{"domain":["Psych -","Psych +"],"range":[48,112]},"legend":{"orient":"none","legendX":1231,"legendY":393,"title":null,"labelExpr":"''","labelOpacity":0,"clipHeight":18,"rowPadding":1,"symbolStrokeWidth":1.3}}}},
{"data":{"name":"annB"},"transform":[{"filter":"datum.k === 'b'"}],"mark":{"type":"text","angle":-9,"fontSize":16,"font":"Liberation Sans","color":"#1a1a1a","align":"center","baseline":"middle"},"encoding":{"x":{"field":"x","type":"quantitative","axis":null},"y":{"field":"y","type":"quantitative","axis":null},"text":{"field":"t"}}},
{"data":{"name":"annB"},"transform":[{"filter":"datum.k === 'r'"}],"mark":{"type":"text","angle":13,"fontSize":16,"font":"Liberation Sans","color":"#1a1a1a","align":"center","baseline":"middle"},"encoding":{"x":{"field":"x","type":"quantitative","axis":null},"y":{"field":"y","type":"quantitative","axis":null},"text":{"field":"t"}}},
{"data":{"name":"annB"},"transform":[{"filter":"datum.k === 'd'"}],"mark":{"type":"text","fontSize":16,"font":"Liberation Sans","color":"#1a1a1a","align":"left","baseline":"middle"},"encoding":{"x":{"field":"x","type":"quantitative","axis":null},"y":{"field":"y","type":"quantitative","axis":null},"text":{"field":"t"}}},
{"data":{"name":"arrB"},"mark":{"type":"line","interpolate":"basis","color":"#111","strokeWidth":1.3},"encoding":{"x":{"field":"x","type":"quantitative","axis":null},"y":{"field":"y","type":"quantitative","axis":null},"order":{"field":"i","type":"quantitative"}}},
{"data":{"name":"headB"},"transform":[{"filter":"datum.e === 'top'"}],"mark":{"type":"point","shape":"triangle-up","filled":true,"color":"#111","size":38,"angle":0,"opacity":1},"encoding":{"x":{"field":"x","type":"quantitative","axis":null},"y":{"field":"y","type":"quantitative","axis":null}}},
{"data":{"name":"headB"},"transform":[{"filter":"datum.e === 'bot'"}],"mark":{"type":"point","shape":"triangle-down","filled":true,"color":"#111","size":38,"angle":15,"opacity":1},"encoding":{"x":{"field":"x","type":"quantitative","axis":null},"y":{"field":"y","type":"quantitative","axis":null}}}
]}
]
}
